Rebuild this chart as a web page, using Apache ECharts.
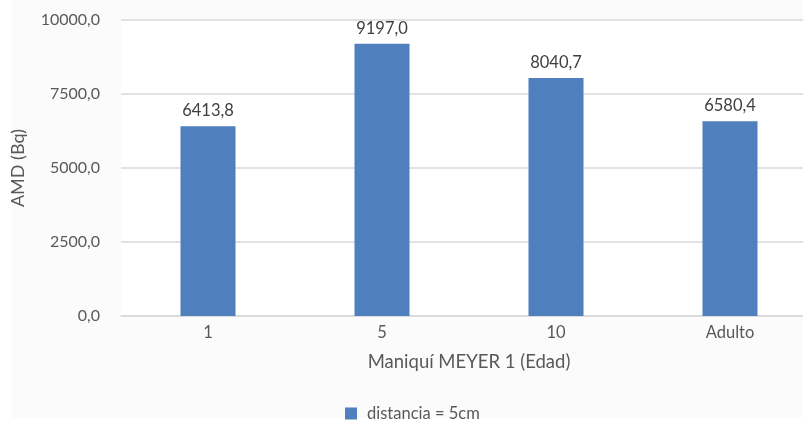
<!DOCTYPE html>
<html><head><meta charset="utf-8">
<script src="https://cdn.jsdelivr.net/npm/echarts@6/dist/echarts.min.js"></script>
<style>html,body{margin:0;padding:0;background:#fff}#c{width:803px;height:421px}</style>
</head><body><div id="c"></div>
<script>
const categories = ['1', '5', '10', 'Adulto'];
const values = [6413.8, 9197.0, 8040.7, 6580.4];
const seriesName = 'distancia = 5cm';
const yTicks = { min: 0, max: 10000, interval: 2500 };
const fmt = v => v.toFixed(1).replace('.', ',');

const chart = echarts.init(document.getElementById('c'));
chart.setOption({
  backgroundColor: '#fff',
  animation: false,
  textStyle: { fontFamily: 'Lato' },
  graphic: [{ type: 'rect', z: -10, shape: { x: 12, y: 0, width: 791, height: 418 }, style: { fill: '#fbfbfb' } }],
  grid: { left: 121, width: 696, top: 20, height: 296, outerBoundsMode: 'none', containLabel: false, show: true, backgroundColor: '#fff', borderWidth: 0 },
  legend: {
    top: 400, left: 340, itemWidth: 12, itemHeight: 12, icon: 'rect',
    textStyle: { fontSize: 16.5, color: '#595959', fontFamily: 'Lato', padding: [0, 0, 0, 5] },
    data: [seriesName]
  },
  xAxis: {
    type: 'category', data: categories,
    axisLine: { lineStyle: { color: '#d9d9d9', width: 1.5 } },
    axisTick: { show: false },
    axisLabel: { fontSize: 16.5, color: '#595959', margin: 8 },
    name: 'Maniquí MEYER 1 (Edad)', nameLocation: 'middle', nameGap: 37,
    nameTextStyle: { fontSize: 18.5, color: '#595959' }
  },
  yAxis: {
    type: 'value', min: yTicks.min, max: yTicks.max, interval: yTicks.interval,
    axisLine: { show: false }, axisTick: { show: false },
    splitLine: { lineStyle: { color: '#d9d9d9', width: 1.5 } },
    axisLabel: { fontSize: 16, color: '#595959', margin: 21, formatter: fmt },
    name: 'AMD (Bq)', nameLocation: 'middle', nameGap: 94,
    nameTextStyle: { fontSize: 18, color: '#595959' }
  },
  series: [{
    name: seriesName, type: 'bar', data: values, barWidth: 55,
    itemStyle: { color: '#4f7fbd' },
    label: { show: true, position: 'top', distance: 7, fontSize: 16.5, color: '#404040', formatter: p => fmt(p.value) }
  }]
});
</script></body></html>
